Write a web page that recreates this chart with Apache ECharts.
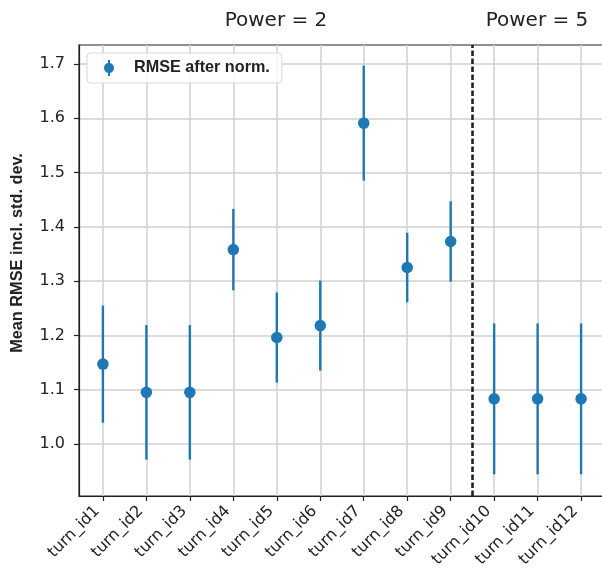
<!DOCTYPE html>
<html><head><meta charset="utf-8">
<script src="https://cdn.jsdelivr.net/npm/echarts@6/dist/echarts.min.js"></script>
<style>html,body{margin:0;padding:0;background:#fff}#c{width:602px;height:573px}</style>
</head><body><div id="c"></div>
<script>
const categories = ['turn_id1','turn_id2','turn_id3','turn_id4','turn_id5','turn_id6','turn_id7','turn_id8','turn_id9','turn_id10','turn_id11','turn_id12'];
const means  = [1.147, 1.095, 1.095, 1.358, 1.196, 1.218, 1.591, 1.325, 1.373, 1.083, 1.083, 1.083];
const errors = [0.108, 0.124, 0.124, 0.075, 0.083, 0.083, 0.106, 0.064, 0.074, 0.139, 0.139, 0.139];
const yTicks = [1.0, 1.1, 1.2, 1.3, 1.4, 1.5, 1.6, 1.7];
const groupLabels = ['Power = 2', 'Power = 5'];
const seriesName = 'RMSE after norm.';
const yAxisTitle = 'Mean RMSE incl. std. dev.';
const dividerAt = 8.5;

const xIdx = categories.map((c, i) => i);
const pointData = means.map((m, i) => [i, m]);
const barData = means.map((m, i) => [i, m - errors[i], m + errors[i]]);

const C = '#1f77b4';
const TXT = '#222';
const FONT = "'DejaVu Sans', sans-serif";
const BOLD = "'Liberation Sans', sans-serif";

const chart = echarts.init(document.getElementById('c'), null, {renderer: 'canvas'});
chart.setOption({
  animation: false,
  backgroundColor: '#fff',
  grid: {left: 79, top: 45, width: 526, height: 451, show: true, borderColor: '#222', borderWidth: 1.2, outerBoundsMode: 'none', containLabel: false},
  xAxis: {
    type: 'value', min: -0.55, max: 11.55,
    axisLine: {show: true, onZero: false, lineStyle: {color: '#222', width: 1.2}},
    axisTick: {show: true, customValues: xIdx, length: 5, lineStyle: {color: '#222', width: 1.2}},
    axisLabel: {customValues: xIdx, formatter: v => categories[Math.round(v)], rotate: 45, fontSize: 16, fontFamily: FONT, color: TXT, margin: 7, padding: [0, 8, 0, 0]},
    splitLine: {show: true, lineStyle: {color: '#d0d0d0', width: 1.5}}
  },
  yAxis: {
    type: 'value', min: 0.904, max: 1.735,
    axisLine: {show: true, onZero: false, lineStyle: {color: '#222', width: 1.2}},
    axisTick: {show: true, customValues: yTicks, length: 5, lineStyle: {color: '#222', width: 1.2}},
    axisLabel: {customValues: yTicks, formatter: v => Number(v).toFixed(1), fontSize: 16, fontFamily: FONT, color: TXT, margin: 14},
    splitLine: {show: true, lineStyle: {color: '#d0d0d0', width: 1.5}}
  },
  legend: {
    left: 87, top: 53, orient: 'vertical',
    padding: [7, 12, 7, 17],
    backgroundColor: 'rgba(255,255,255,0.85)', borderColor: '#d8d8d8', borderWidth: 1, borderRadius: 4,
    itemWidth: 12, itemHeight: 16,
    textStyle: {fontFamily: BOLD, fontWeight: 'bold', fontSize: 16.2, color: TXT, padding: [0, 0, 0, 14]},
    data: [{name: seriesName, icon: 'path://M5,0H7V3.1A5,5 0 0 1 7,12.9V16H5V12.9A5,5 0 0 1 5,3.1Z'}]
  },
  graphic: [
    {type: 'text', x: 276, y: 21, style: {text: groupLabels[0], font: "20px 'DejaVu Sans'", fill: TXT, textAlign: 'center', textVerticalAlign: 'middle'}},
    {type: 'text', x: 537, y: 21, style: {text: groupLabels[1], font: "20px 'DejaVu Sans'", fill: TXT, textAlign: 'center', textVerticalAlign: 'middle'}},
    {type: 'text', x: 18, y: 253, rotation: Math.PI / 2, style: {text: yAxisTitle, font: "bold 16.3px 'Liberation Sans'", fill: TXT, textAlign: 'center', textVerticalAlign: 'middle'}}
  ],
  series: [
    {
      type: 'custom', name: 'errbar', data: barData, encode: {x: 0, y: [1, 2]}, z: 3, silent: true,
      renderItem: (params, api) => {
        const lo = api.coord([api.value(0), api.value(1)]);
        const hi = api.coord([api.value(0), api.value(2)]);
        return {type: 'line', shape: {x1: lo[0], y1: lo[1], x2: hi[0], y2: hi[1]}, style: {stroke: C, lineWidth: 2.4}};
      }
    },
    {
      type: 'scatter', name: seriesName, data: pointData, symbolSize: 11.5, itemStyle: {color: C, opacity: 1}, z: 4,
      markLine: {silent: true, symbol: 'none', label: {show: false}, lineStyle: {color: '#222', type: [5.5, 2.5], width: 2.6}, data: [{xAxis: dividerAt}]}
    }
  ]
});
</script></body></html>
